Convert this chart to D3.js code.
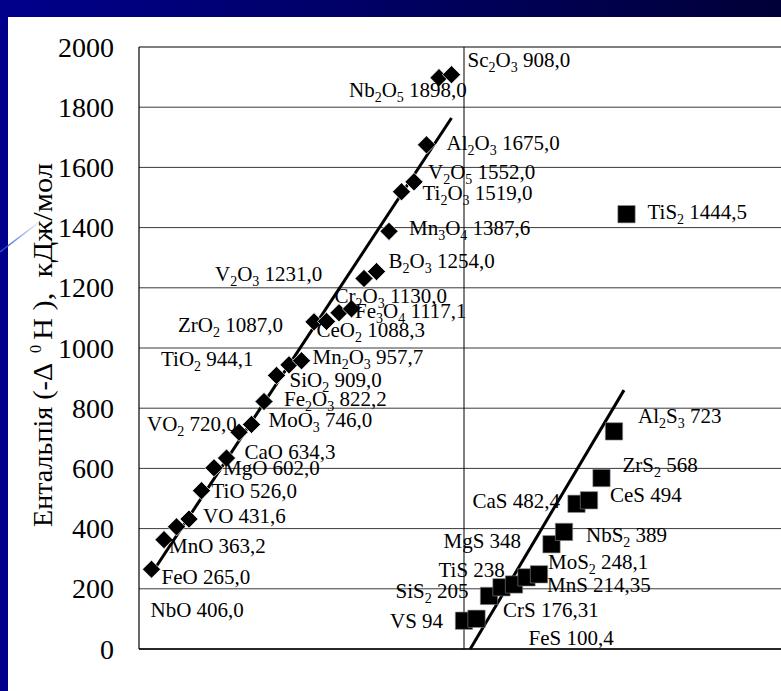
<!DOCTYPE html>
<html>
<head>
<meta charset="utf-8">
<script src="https://cdn.jsdelivr.net/npm/d3@7/dist/d3.min.js"></script>
</head>
<body style="margin:0">
<div id="chart"></div>
<script>
// oxides, in the order they sit on the chart (label text as printed)
var oxideLabels = ["FeO 265,0", "MnO 363,2", "NbO 406,0", "VO 431,6", "TiO 526,0", "MgO 602,0",
  "CaO 634,3", "VO_2 720,0", "MoO_3 746,0", "Fe_2O_3 822,2", "SiO_2 909,0", "TiO_2 944,1",
  "Mn_2O_3 957,7", "ZrO_2 1087,0", "CeO_2 1088,3", "Fe_3O_4 1117,1", "Cr_2O_3 1130,0",
  "V_2O_3 1231,0", "B_2O_3 1254,0", "Mn_3O_4 1387,6", "Ti_2O_3 1519,0", "V_2O_5 1552,0",
  "Al_2O_3 1675,0", "Nb_2O_5 1898,0", "Sc_2O_3 908,0"];
var oxideValues = [265, 363.2, 406, 431.6, 526, 602, 634.3, 720, 746, 822.2, 909, 944.1,
  957.7, 1087, 1088.3, 1117.1, 1130, 1231, 1254, 1387.6, 1519, 1552, 1675, 1898, 1908];

// sulfides
var sulfideLabels = ["VS 94", "FeS 100,4", "CrS 176,31", "SiS_2 205", "MnS 214,35", "TiS 238",
  "MoS_2 248,1", "MgS 348", "NbS_2 389", "CaS 482,4", "CeS 494", "ZrS_2 568", "Al_2S_3 723",
  "TiS_2 1444,5"];
var sulfideValues = [94, 100.4, 176.31, 205, 214.35, 238, 248.1, 348, 389, 482.4, 494, 568, 723, 1444.5];

var yTicks = [0, 200, 400, 600, 800, 1000, 1200, 1400, 1600, 1800, 2000];

// hand drawn line through the sulfides (x position, value)
var sulfideTrend = [[26.5, 0], [38.8, 860]];

// where each label box sits, relative to its marker (px)
var oxideShift = [[10, 15], [5, 13], [-26, 90], [14, 4], [10, 7], [9, 7], [18, 1], [-92, -1],
  [17, 3], [20, 4], [13, 12], [-128, 1], [11, 3], [-136, 10], [-10, 16], [16, 5], [-17, -6],
  [-149, 3], [12, -4], [20, 4], [21, 8], [14, -3], [20, 5], [-90, 19], [16, -8]];
var sulfideShift = [[-74, 7], [52, 26], [14, 21], [-106, 11], [33, 8], [-88, 0], [9, -5],
  [-108, 4], [22, 10], [-104, 4], [21, 2], [21, -6], [24, -8], [21, 5]];

var width = 781;
var height = 691;
var serif = "Liberation Serif";

var chartMargin = { top: 47, right: -8, bottom: 42, left: 139 };
var chartWidth = width - chartMargin.left - chartMargin.right;
var chartHeight = height - chartMargin.top - chartMargin.bottom;

var svg = d3.select("#chart")
  .append("svg")
  .attr("width", width)
  .attr("height", height)
  .attr("font-family", serif)
  .style("display", "block");

// slide background: navy frame at top and left
var defs = svg.append("defs");
var topGrad = defs.append("linearGradient").attr("id", "topband");
topGrad.append("stop").attr("offset", "0%").attr("stop-color", "#00008c");
topGrad.append("stop").attr("offset", "100%").attr("stop-color", "#000038");
var lineGrad = defs.append("linearGradient").attr("id", "deco");
lineGrad.append("stop").attr("offset", "0%").attr("stop-color", "#2d4fd8").attr("stop-opacity", 1);
lineGrad.append("stop").attr("offset", "100%").attr("stop-color", "#2d4fd8").attr("stop-opacity", 0);

svg.append("rect").attr("width", width).attr("height", height).attr("fill", "#fff");
svg.append("rect").attr("width", width).attr("height", 17).attr("fill", "url(#topband)");
svg.append("rect").attr("width", 8).attr("height", height).attr("fill", "#00008a");
svg.append("line")
  .attr("x1", 0).attr("y1", 252).attr("x2", 42).attr("y2", 220)
  .attr("stroke", "url(#deco)").attr("stroke-width", 1.5);

var chartGroup = svg.append("g")
  .attr("transform", `translate(${chartMargin.left}, ${chartMargin.top})`);

var xScale = d3.scaleLinear()
  .range([0, chartWidth])
  .domain([0, 52]);

var yScale = d3.scaleLinear()
  .range([chartHeight, 0])
  .domain([0, 2000]);

// horizontal grid
chartGroup.append("g")
  .selectAll("line")
  .data(yTicks)
  .enter()
  .append("line")
  .attr("x1", 0)
  .attr("x2", chartWidth)
  .attr("y1", d => yScale(d))
  .attr("y2", d => yScale(d))
  .attr("stroke", d => d === 2000 ? "#000" : "#3a3a3a")
  .attr("stroke-width", 1);

// vertical grid line at the major unit
chartGroup.append("line")
  .attr("x1", xScale(26)).attr("x2", xScale(26))
  .attr("y1", 0).attr("y2", chartHeight)
  .attr("stroke", "#000").attr("stroke-width", 1);

// tick labels drawn as plain texts from the scale
chartGroup.append("g")
  .selectAll("text")
  .data(yTicks)
  .enter()
  .append("text")
  .attr("x", -25)
  .attr("y", d => yScale(d))
  .attr("dy", "0.34em")
  .attr("text-anchor", "end")
  .attr("font-size", 28)
  .style("font-family", serif)
  .text(d => d);

chartGroup.append("line")
  .attr("x1", 0).attr("x2", 0)
  .attr("y1", 0).attr("y2", chartHeight)
  .attr("stroke", "#000").attr("stroke-width", 1.2);

chartGroup.append("line")
  .attr("x1", 0).attr("x2", chartWidth)
  .attr("y1", chartHeight).attr("y2", chartHeight)
  .attr("stroke", "#000").attr("stroke-width", 1.5);

// linear trend of the oxides
var oxX = oxideValues.map((d, i) => i + 1);
var mx = d3.mean(oxX), my = d3.mean(oxideValues);
var sxy = d3.sum(oxX, (x, i) => (x - mx) * (oxideValues[i] - my));
var sxx = d3.sum(oxX, x => (x - mx) * (x - mx));
var slope = sxy / sxx;
var icpt = my - slope * mx;
var oxTrend = [1, oxX.length].map(x => [x, icpt + slope * x]);

var line = d3.line().x(d => xScale(d[0])).y(d => yScale(d[1]));

chartGroup.append("path")
  .attr("d", line(oxTrend))
  .attr("fill", "none").attr("stroke", "#000").attr("stroke-width", 3);

chartGroup.append("path")
  .attr("d", line(sulfideTrend))
  .attr("fill", "none").attr("stroke", "#000").attr("stroke-width", 3);

// markers
var diamond = d3.symbol().type(d3.symbolSquare).size(165);
chartGroup.append("g")
  .selectAll("path")
  .data(oxideValues)
  .enter()
  .append("path")
  .attr("d", diamond)
  .attr("transform", (d, i) => `translate(${xScale(i + 1)}, ${yScale(d)}) rotate(45)`)
  .attr("fill", "#000")
  .attr("stroke", "#fff")
  .attr("stroke-width", 0.7);

var square = d3.symbol().type(d3.symbolSquare).size(300);
chartGroup.append("g")
  .selectAll("path")
  .data(sulfideValues)
  .enter()
  .append("path")
  .attr("d", square)
  .attr("transform", (d, i) => `translate(${xScale(i + 26)}, ${yScale(d)})`)
  .attr("fill", "#000")
  .attr("stroke", "#888")
  .attr("stroke-width", 0.6);

// labels with chemical subscripts
function addLabel(g, str, x, y) {
  var t = g.append("text")
    .attr("x", x)
    .attr("y", y)
    .attr("font-size", 21)
    .style("font-family", serif);
  var parts = str.split(/(_\d)/);
  var sub = false;
  parts.forEach(function(p) {
    if (p === "") return;
    if (p[0] === "_") {
      t.append("tspan").attr("dy", 5).attr("font-size", 14).text(p.slice(1));
      sub = true;
    } else {
      t.append("tspan").attr("dy", sub ? -5 : 0).text(p);
      sub = false;
    }
  });
}

var labelGroup = chartGroup.append("g");
oxideLabels.forEach(function(s, i) {
  addLabel(labelGroup, s, xScale(i + 1) + oxideShift[i][0], yScale(oxideValues[i]) + oxideShift[i][1]);
});
sulfideLabels.forEach(function(s, i) {
  addLabel(labelGroup, s, xScale(i + 26) + sulfideShift[i][0], yScale(sulfideValues[i]) + sulfideShift[i][1]);
});

// y axis title in three pieces, each held to its length on the slide
svg.append("text")
  .attr("transform", "translate(52, 527) rotate(-90)")
  .attr("font-size", 28)
  .attr("textLength", 164)
  .attr("lengthAdjust", "spacingAndGlyphs")
  .style("font-family", serif)
  .text("Ентальпія (-Δ");

svg.append("text")
  .attr("transform", "translate(41, 353) rotate(-90)")
  .attr("font-size", 16)
  .style("font-family", serif)
  .text("0");

svg.append("text")
  .attr("transform", "translate(52, 340) rotate(-90)")
  .attr("font-size", 28)
  .attr("textLength", 177)
  .attr("lengthAdjust", "spacingAndGlyphs")
  .style("font-family", serif)
  .style("white-space", "pre")
  .text("H ),  кДж/мол");
</script>
</body>
</html>
